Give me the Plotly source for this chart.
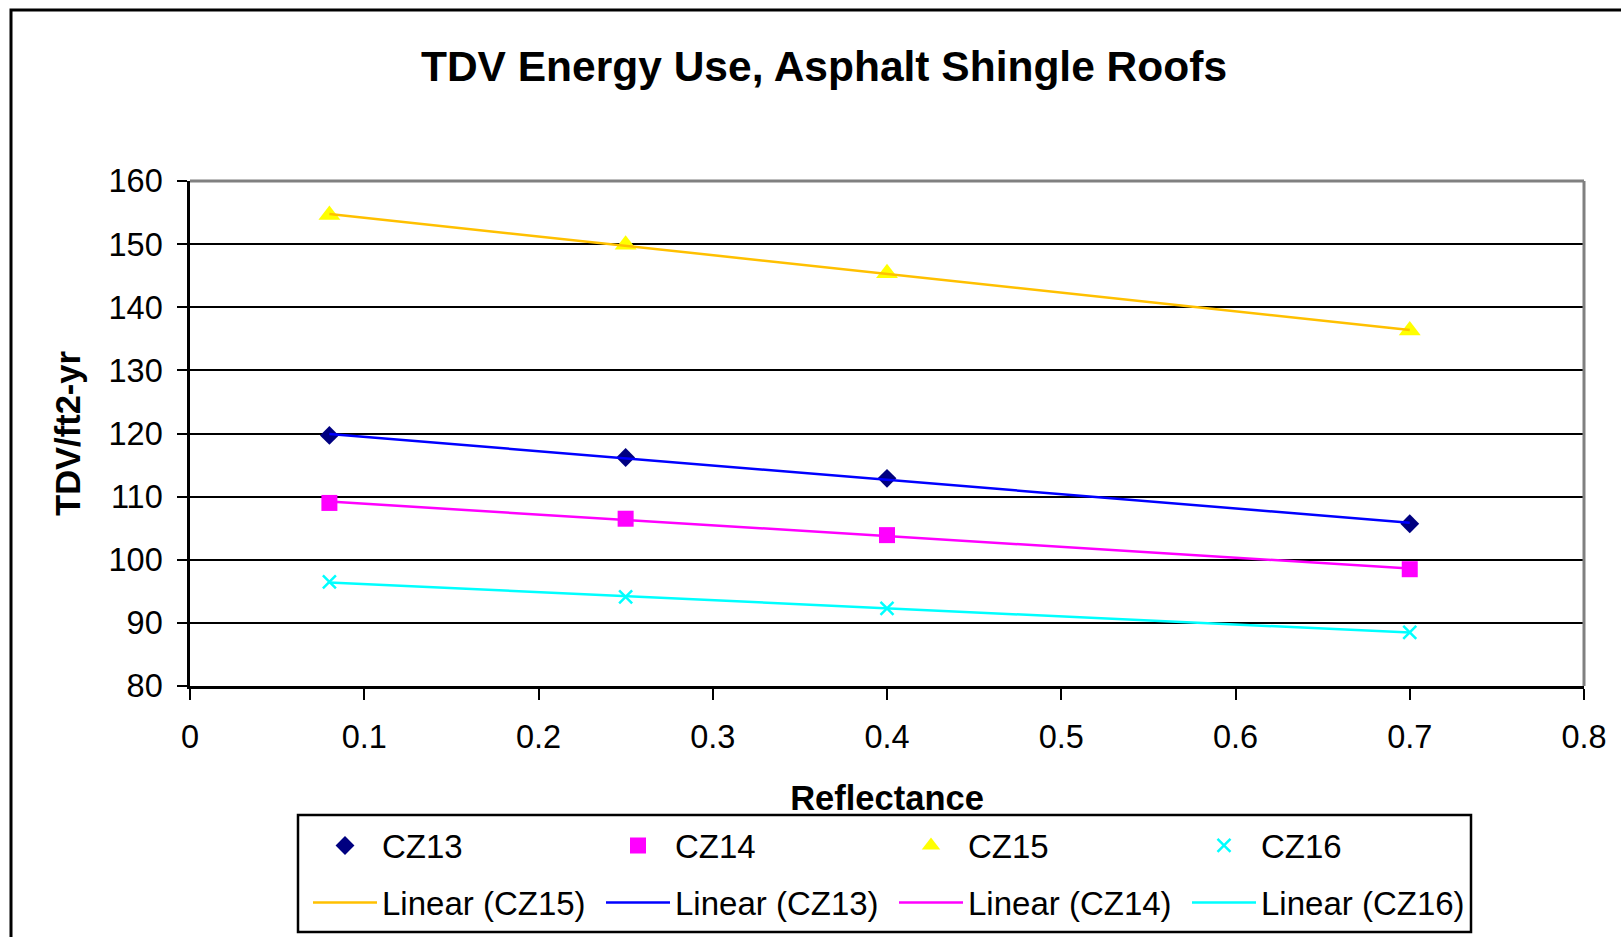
import numpy as np
import plotly.graph_objects as go

# Reflectance values tested and resulting TDV energy use per climate zone
reflectance = [0.08, 0.25, 0.40, 0.70]
cz13 = [119.7, 116.2, 112.9, 105.7]
cz14 = [109.0, 106.5, 103.9, 98.5]
cz15 = [154.6, 149.9, 145.4, 136.3]
cz16 = [96.5, 94.1, 92.3, 88.5]

x_ticks = [0, 0.1, 0.2, 0.3, 0.4, 0.5, 0.6, 0.7, 0.8]
y_ticks = [80, 90, 100, 110, 120, 130, 140, 150, 160]

FONT = "Arial, Liberation Sans, sans-serif"

# Plot-area geometry in pixels (used to place the legend frame)
W, H = 1621, 937
ML, MR, MT, MB = 190, 37, 181, 251
PW, PH = W - ML - MR, H - MT - MB


def px_x(px):
    return (px - ML) / PW


def px_y(py):
    return (H - MB - py) / PH


series = {
    "CZ13": dict(y=cz13, symbol="diamond", size=14.5, color="#000080", line="#0000FF"),
    "CZ14": dict(y=cz14, symbol="square", size=16, color="#FF00FF", line="#FF00FF"),
    "CZ15": dict(y=cz15, symbol="triangle-up", size=19, color="#FFFF00", line="#FFC000"),
    "CZ16": dict(y=cz16, symbol="x-thin", size=13, color="#00FFFF", line="#00FFFF"),
}

fig = go.Figure()

# Data points (first legend row)
for name, s in series.items():
    marker = dict(symbol=s["symbol"], size=s["size"], color=s["color"])
    if s["symbol"] == "x-thin":
        marker["line"] = dict(color=s["color"], width=2.5)
    else:
        marker["line"] = dict(width=0)
    fig.add_trace(go.Scatter(x=reflectance, y=s["y"], mode="markers", name=name,
                             marker=marker, legend="legend"))

# Linear trendlines, least-squares fit over the data range (second legend row)
xr = np.array([min(reflectance), max(reflectance)])
for name in ["CZ15", "CZ13", "CZ14", "CZ16"]:
    s = series[name]
    slope, icpt = np.polyfit(reflectance, s["y"], 1)
    fig.add_trace(go.Scatter(x=xr, y=slope * xr + icpt, mode="lines",
                             name=f"Linear ({name})",
                             line=dict(color=s["line"], width=2.5), legend="legend2"))

ITEM_W = 64
ENTRY_W = 214
LEG_X = px_x(308)
leg_common = dict(orientation="h", xanchor="left", yanchor="top",
                  xref="paper", yref="paper", bgcolor="rgba(0,0,0,0)", borderwidth=0,
                  font=dict(size=33, family=FONT, color="black"),
                  entrywidth=ENTRY_W, itemwidth=ITEM_W)

fig.update_layout(
    width=W, height=H,
    margin=dict(l=ML, r=MR, t=MT, b=MB, autoexpand=False),
    paper_bgcolor="white", plot_bgcolor="white",
    font=dict(family=FONT, color="black", size=32),
    title=dict(text="<b>TDV Energy Use, Asphalt Shingle Roofs</b>",
               font=dict(size=42.5, family=FONT, color="black"),
               xref="container", x=824 / W, xanchor="center",
               yref="container", y=1 - 66 / H, yanchor="middle"),
    showlegend=True,
    legend=dict(x=LEG_X, y=px_y(817.5), **leg_common),
    legend2=dict(x=LEG_X, y=px_y(874.5), **leg_common),
)

fig.update_xaxes(range=[0, 0.8], tickvals=x_ticks, ticktext=[f"{v:g}" for v in x_ticks],
                 showgrid=False, zeroline=False,
                 showline=True, linecolor="black", linewidth=2.5,
                 ticks="outside", ticklen=11, tickwidth=2, tickcolor="black",
                 ticklabelstandoff=9,
                 tickfont=dict(size=32.5, family=FONT),
                 title=dict(text="<b>Reflectance</b>", font=dict(size=34.5, family=FONT),
                            standoff=33))
fig.update_yaxes(range=[80, 160], tickvals=y_ticks,
                 showgrid=True, gridcolor="black", gridwidth=2, zeroline=False,
                 showline=True, linecolor="black", linewidth=2.5,
                 ticks="outside", ticklen=10, tickwidth=2, tickcolor="black",
                 ticklabelstandoff=8,
                 tickfont=dict(size=32.5, family=FONT),
                 title=dict(text="<b>TDV/ft2-yr</b>", font=dict(size=34.5, family=FONT),
                            standoff=18))

# Gray plot-area border on top and right
fig.add_shape(type="line", xref="paper", yref="paper", x0=0, x1=1, y0=1, y1=1,
              line=dict(color="#808080", width=3), layer="above")
fig.add_shape(type="line", xref="paper", yref="paper", x0=1, x1=1, y0=0, y1=1,
              line=dict(color="#808080", width=3), layer="above")

# Frame around both legend rows
fig.add_shape(type="rect", xref="paper", yref="paper",
              x0=px_x(298), x1=px_x(1471), y0=px_y(932), y1=px_y(815),
              line=dict(color="black", width=2.5), fillcolor="white", layer="below")

# Outer chart frame
fig.add_shape(type="rect", xref="paper", yref="paper",
              x0=px_x(11), x1=1.1, y0=-0.6, y1=px_y(10),
              line=dict(color="black", width=3), layer="below")

fig.write_html("out.html")
